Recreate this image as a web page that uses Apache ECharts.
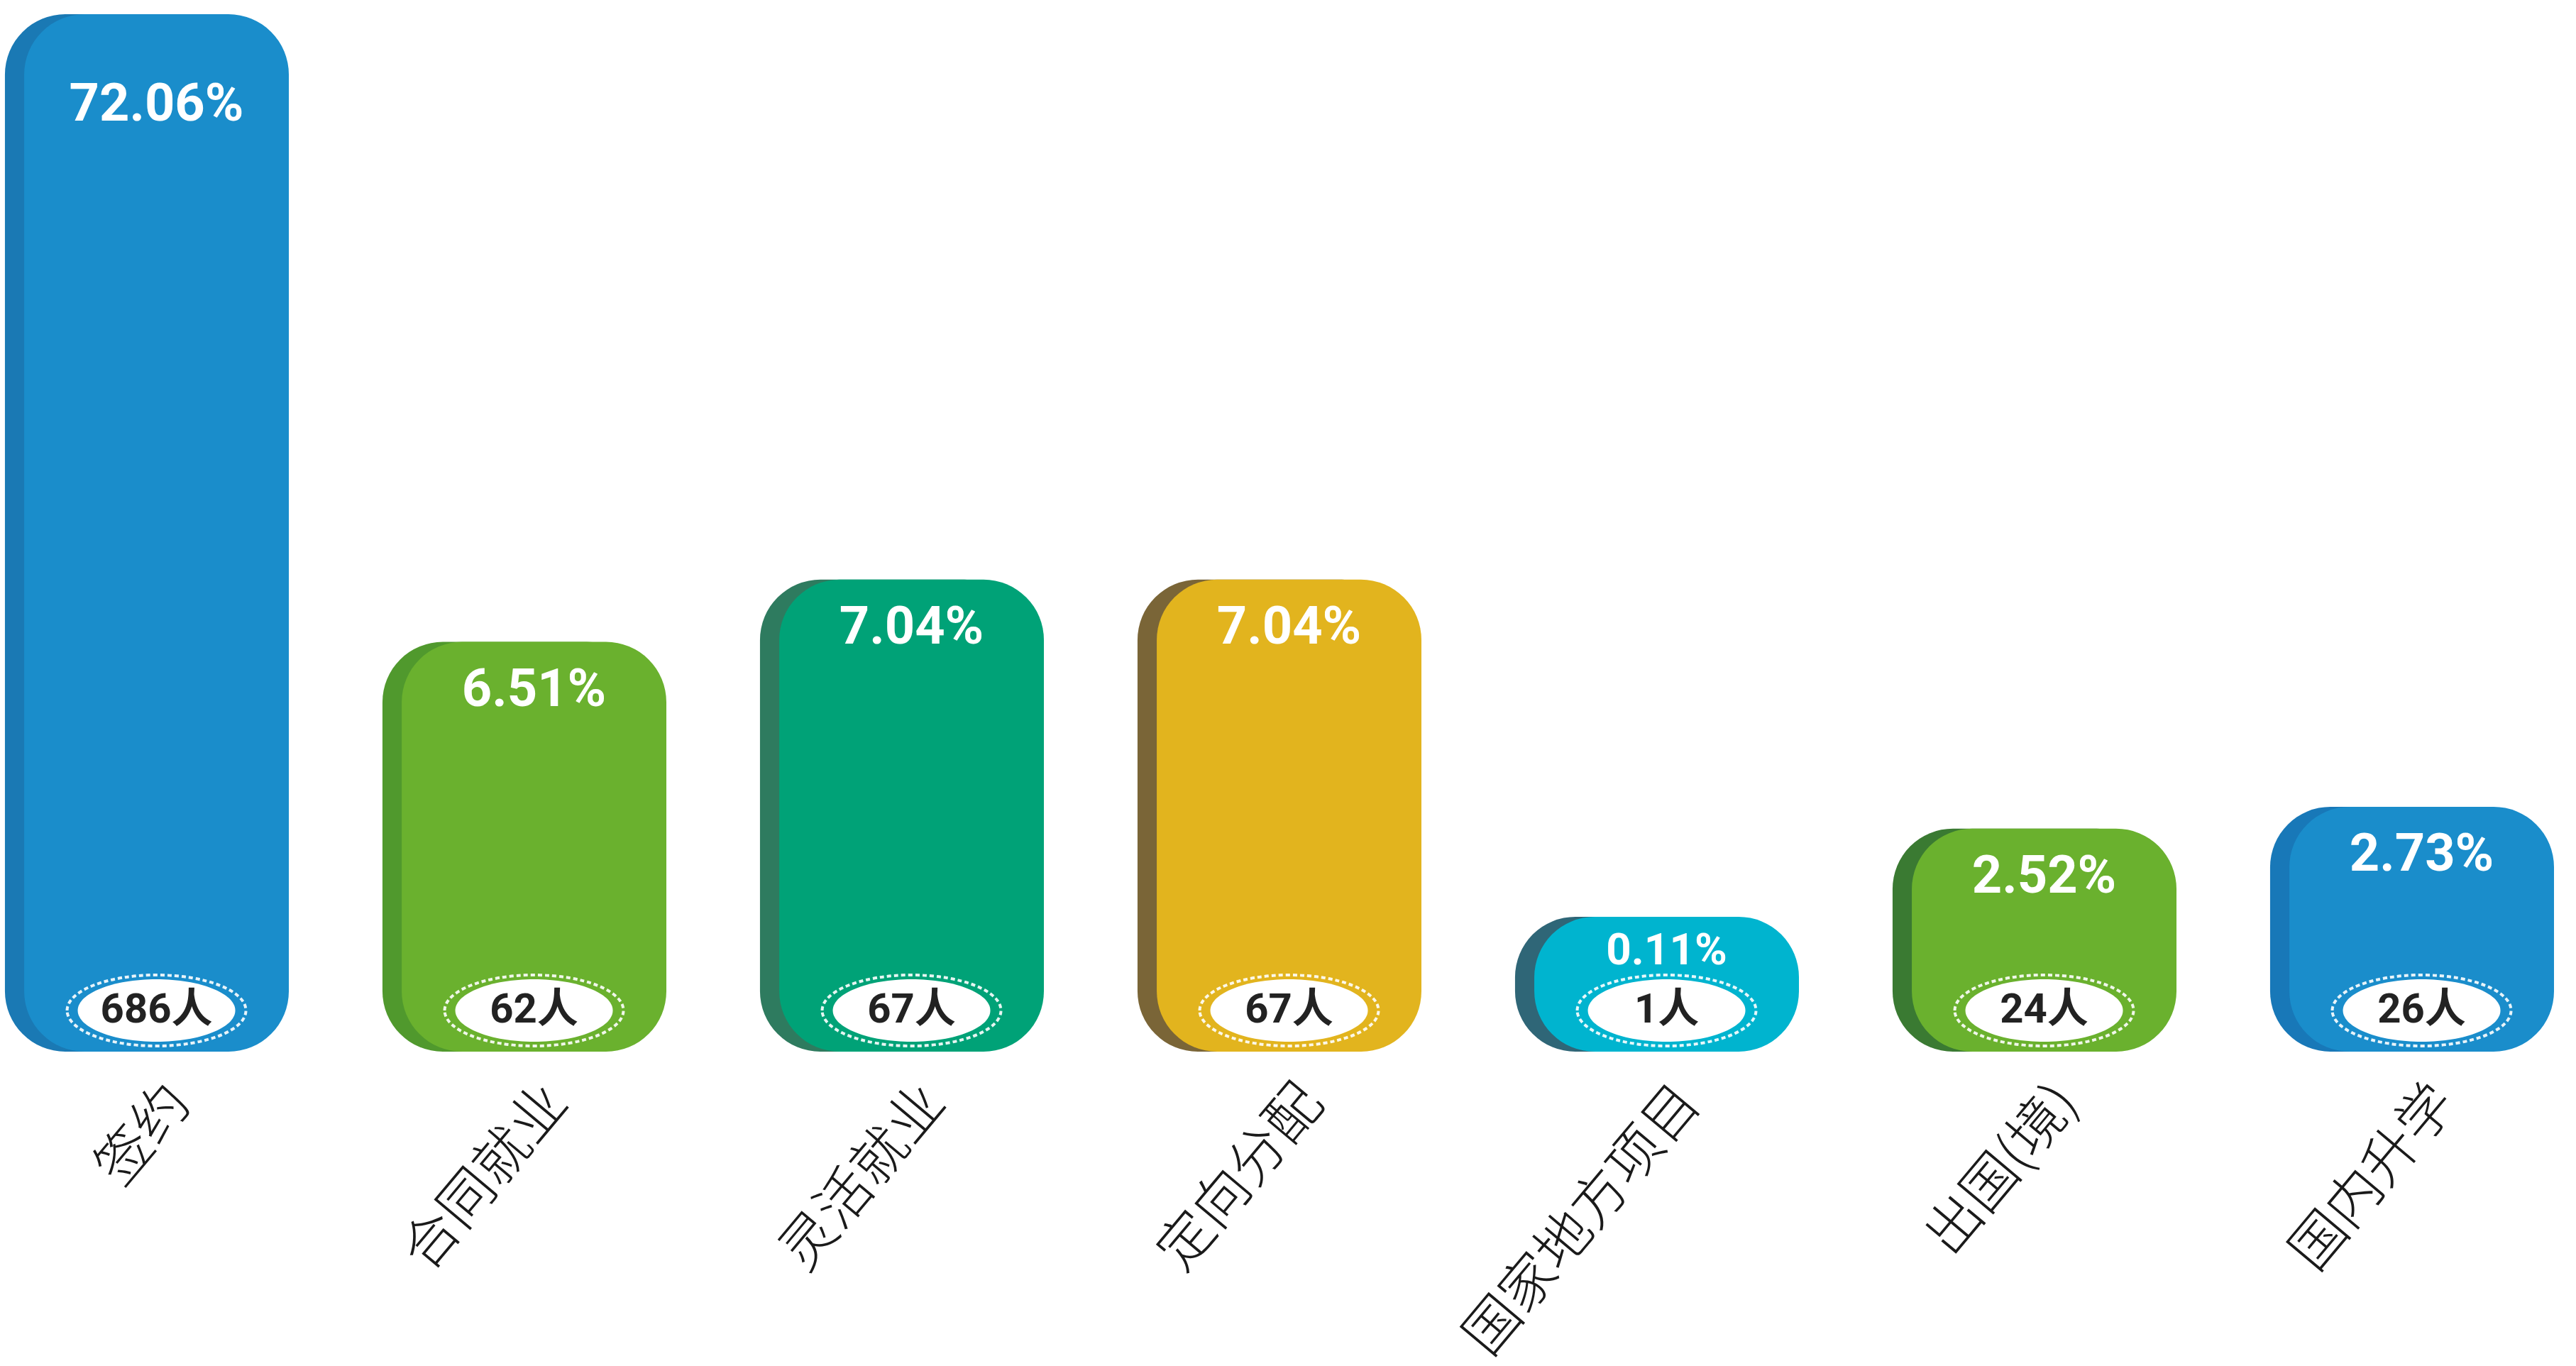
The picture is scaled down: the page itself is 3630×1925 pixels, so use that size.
<!DOCTYPE html>
<html>
<head>
<meta charset="utf-8">
<title>就业去向</title>
<script src="https://cdn.jsdelivr.net/npm/echarts@6/dist/echarts.min.js"></script>
<style>
  html, body { margin: 0; padding: 0; background: #fff; }
  #myChart { width: 3630px; height: 1925px; }
</style>
</head>
<body>
<div id="myChart"></div>
<script>
// 类别
const categories = ['签约', '合同就业', '灵活就业', '定向分配', '国家地方项目', '出国(境)', '国内升学']
// 比例 %
const percents = [72.06, 6.51, 7.04, 7.04, 0.11, 2.52, 2.73]
// 人数
const counts = [686, 62, 67, 67, 1, 24, 26]
// 图中柱子的相对高度（签约 = 100），从原图量出
const barLength = [100, 39.5, 45.5, 45.5, 13.0, 21.5, 23.6]

// 颜色：正面 / 侧面
const frontColors = ['#1a8dcb', '#6ab12e', '#00a277', '#e2b41e', '#00b4cf', '#6ab12e', '#1a8dcb']
const sideColors = ['#1a79b4', '#50992d', '#2e7b5f', '#7a6537', '#2f6677', '#3a7a32', '#1878b8']

function renderBar (params, api) {
  const i = params.dataIndex
  const base = api.coord([api.value(0), 0])
  const top = api.coord([api.value(0), api.value(1)])
  const band = api.size([1, 0])[0]
  const w = band * 0.752
  const side = band * 0.051
  const left = base[0] - band * 0.079 - w / 2
  const h = base[1] - top[1]
  const r = Math.min(band * 0.16, h / 2)
  const fw = w - side
  const fc = left + side + fw / 2 // 正面中心
  const pctOffset = Math.min(h * 0.27, Math.max(72, h * 0.09))
  const cy = base[1] - 58
  return {
    type: 'group',
    children: [
      { // 侧面
        type: 'rect',
        shape: { x: left, y: top[1], width: fw, height: h, r: r },
        style: { fill: sideColors[i] }
      },
      { // 正面
        type: 'rect',
        shape: { x: left + side, y: top[1], width: fw, height: h, r: r },
        style: { fill: frontColors[i] }
      },
      {
        type: 'text',
        style: {
          x: fc,
          y: top[1] + pctOffset,
          text: api.value(2).toFixed(2) + '%',
          fill: '#fff',
          font: 'bold ' + (h < 250 ? 62 : 74) + 'px Roboto, "Liberation Sans", sans-serif',
          align: 'center',
          verticalAlign: 'middle'
        }
      },
      { // 虚线外圈
        type: 'ellipse',
        shape: { cx: fc, cy: cy, rx: 126, ry: 50 },
        style: { fill: 'none', stroke: 'rgba(255,255,255,0.9)', lineWidth: 4, lineDash: [6, 4] }
      },
      {
        type: 'ellipse',
        shape: { cx: fc, cy: cy, rx: 111, ry: 44 },
        style: { fill: '#fff' }
      },
      {
        type: 'text',
        style: {
          x: fc,
          y: cy + 2,
          text: api.value(3) + '人',
          fill: '#222',
          font: 'bold 58px Roboto, "Noto Sans CJK SC", sans-serif',
          align: 'center',
          verticalAlign: 'middle'
        }
      }
    ]
  }
}

const option = {
  backgroundColor: '#fff',
  animation: false,
  grid: {
    left: 249,
    right: 189,
    top: 20,
    bottom: 443,
    containLabel: false,
    outerBoundsMode: 'none'
  },
  xAxis: {
    type: 'category',
    data: categories,
    boundaryGap: false,
    axisLine: { show: false },
    axisTick: { show: false },
    splitLine: { show: false },
    axisLabel: {
      interval: 0,
      rotate: 50,
      margin: 55,
      fontSize: 78,
      fontWeight: 300,
      color: '#1a1a1a',
      fontFamily: '"Noto Sans CJK SC", sans-serif'
    }
  },
  yAxis: {
    type: 'value',
    min: 0,
    max: 100,
    show: false
  },
  series: [
    {
      type: 'custom',
      clip: false,
      renderItem: renderBar,
      encode: { x: 0, y: 1 },
      data: categories.map((c, i) => [i, barLength[i], percents[i], counts[i]])
    }
  ]
}

const myChart = echarts.init(document.getElementById('myChart'))
myChart.setOption(option)
</script>
</body>
</html>
